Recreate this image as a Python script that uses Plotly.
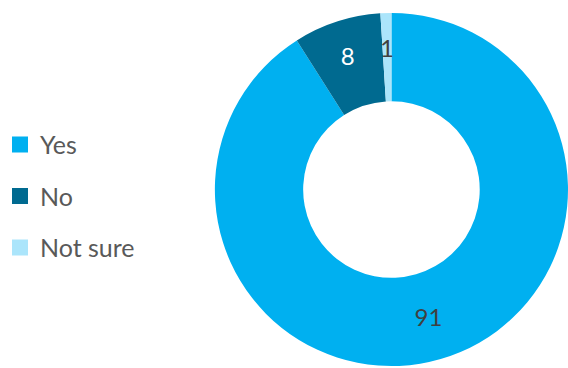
import math
import plotly.graph_objects as go

# Survey answers
categories = ["Yes", "No", "Not sure"]
values = [91, 8, 1]
colors = ["#00B0F0", "#006A90", "#ABE5FB"]
label_colors = ["#404040", "#FFFFFF", "#404040"]

FONT = "Lato, Noto Sans, sans-serif"
W, H = 568, 368
dom_x = [0.375, 1.0]
dom_y = [0.0, 0.97]
hole = 0.5

fig = go.Figure()

# The thinnest slice gets its value written by an annotation so it sits
# in the middle of the ring instead of being pushed to the outer edge.
positions = ["inside", "inside", "none"]

fig.add_trace(go.Pie(
    labels=categories,
    values=values,
    sort=False,
    direction="clockwise",
    rotation=0,
    hole=hole,
    marker=dict(colors=colors, line=dict(width=0)),
    textinfo="value",
    textposition=positions,
    insidetextorientation="horizontal",
    textfont=dict(size=24, color=label_colors, family=FONT),
    domain=dict(x=dom_x, y=dom_y),
    showlegend=False,
))

# Place the label of the last slice at its mid-angle, within the ring
total = sum(values)
cx = (dom_x[0] + dom_x[1]) / 2
cy = (dom_y[0] + dom_y[1]) / 2
radius_px = min((dom_x[1] - dom_x[0]) * W, (dom_y[1] - dom_y[0]) * H) / 2
idx = len(values) - 1
mid = (sum(values[:idx]) + values[idx] / 2) / total * 2 * math.pi
r_lab = radius_px * 0.8
fig.add_annotation(
    x=cx + r_lab * math.sin(mid) / W,
    y=cy + r_lab * math.cos(mid) / H,
    xref="paper", yref="paper",
    xanchor="center", yanchor="middle",
    text=str(values[idx]),
    showarrow=False,
    font=dict(size=24, color=label_colors[idx], family=FONT),
)

# Legend entries: one square swatch per category, spaced apart
for name, col in zip(categories, colors):
    fig.add_trace(go.Scatter(
        x=[None], y=[None],
        mode="markers",
        marker=dict(symbol="square", size=16, color=col),
        name=name,
        legendgroup=name,
        showlegend=True,
    ))

fig.update_layout(
    width=W,
    height=H,
    margin=dict(l=0, r=0, t=0, b=0),
    paper_bgcolor="white",
    plot_bgcolor="white",
    xaxis=dict(visible=False),
    yaxis=dict(visible=False),
    uniformtext=dict(minsize=24, mode="show"),
    legend=dict(
        x=-0.006, y=0.467, xanchor="left", yanchor="middle",
        font=dict(size=25, color="#595959", family=FONT),
        tracegroupgap=16,
        itemclick=False,
        itemdoubleclick=False,
        bgcolor="rgba(0,0,0,0)",
    ),
)

fig.write_html("out.html")
